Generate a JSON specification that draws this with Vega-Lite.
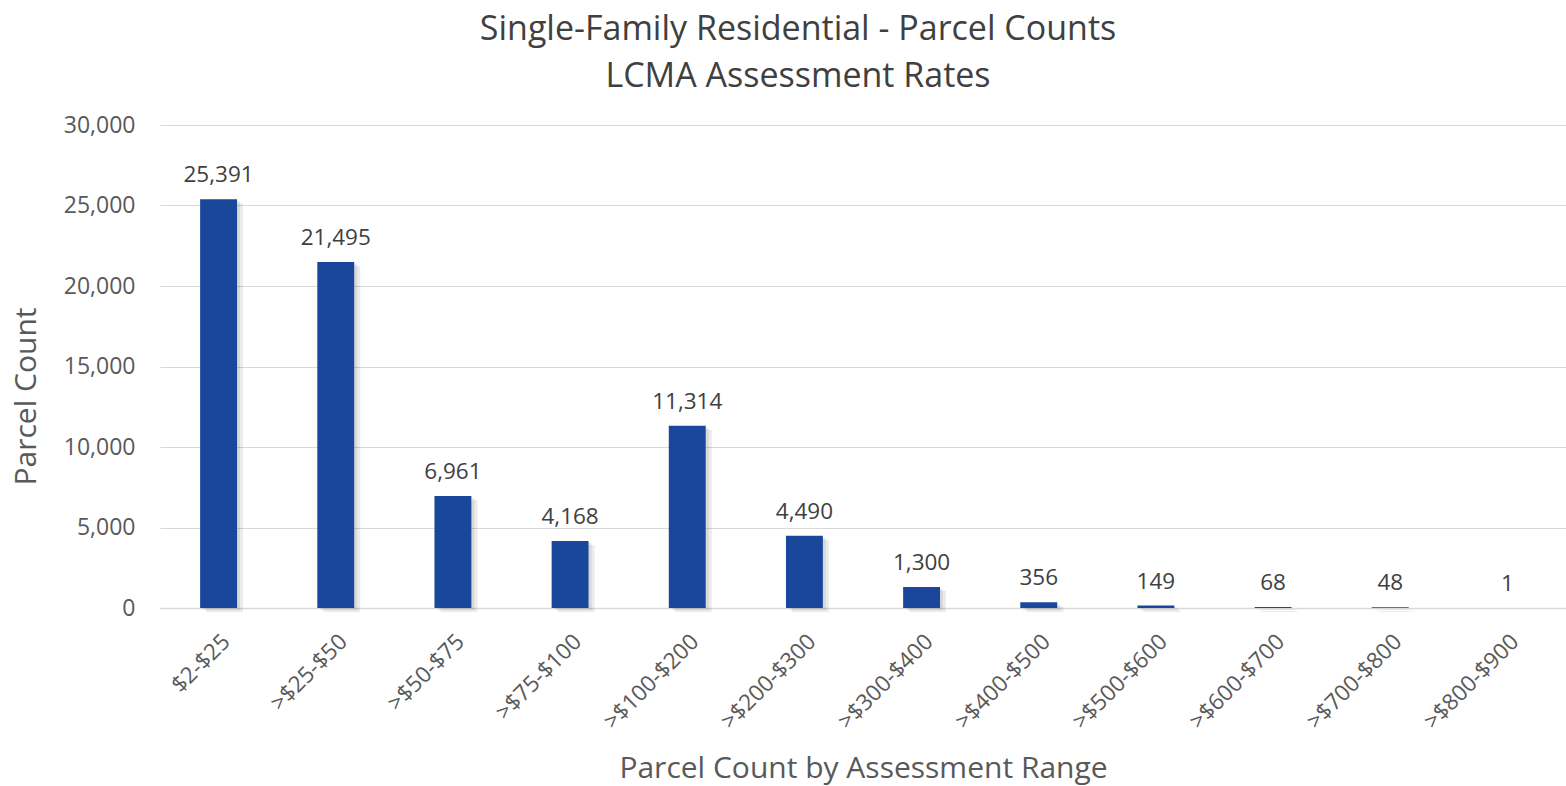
{
  "$schema": "https://vega.github.io/schema/vega-lite/v6.json",
  "autosize": "none",
  "width": 1406,
  "height": 483,
  "padding": {"left": 160, "top": 125, "right": 0, "bottom": 178},
  "background": "white",
  "config": {
    "font": "Open Sans",
    "view": {"stroke": null}
  },
  "title": {
    "text": ["Single-Family Residential - Parcel Counts", "LCMA Assessment Rates"],
    "fontSize": 34,
    "font": "Open Sans",
    "fontWeight": "normal",
    "color": "#404040",
    "anchor": "middle",
    "frame": "group",
    "dx": -65,
    "offset": 20,
    "lineHeight": 47
  },
  "data": {
    "values": [
      {"range": "$2-$25", "count": 25391},
      {"range": ">$25-$50", "count": 21495},
      {"range": ">$50-$75", "count": 6961},
      {"range": ">$75-$100", "count": 4168},
      {"range": ">$100-$200", "count": 11314},
      {"range": ">$200-$300", "count": 4490},
      {"range": ">$300-$400", "count": 1300},
      {"range": ">$400-$500", "count": 356},
      {"range": ">$500-$600", "count": 149},
      {"range": ">$600-$700", "count": 68},
      {"range": ">$700-$800", "count": 48},
      {"range": ">$800-$900", "count": 1}
    ]
  },
  "encoding": {
    "x": {
      "field": "range",
      "type": "nominal",
      "sort": null,
      "scale": {"paddingInner": 0.685, "paddingOuter": 0.3425},
      "axis": {
        "title": "Parcel Count by Assessment Range",
        "titleFontSize": 30,
        "titleFontWeight": "normal",
        "titleColor": "#595959",
        "titlePadding": 21,
        "labelAngle": -45,
        "labelFontSize": 22.5,
        "labelColor": "#595959",
        "labelPadding": 22,
        "ticks": false,
        "domainColor": "#d9d9d9",
        "domainWidth": 1.5
      }
    },
    "y": {
      "field": "count",
      "type": "quantitative",
      "scale": {"domain": [0, 30000]},
      "axis": {
        "title": "Parcel Count",
        "titleFontSize": 30,
        "titleFontWeight": "normal",
        "titleColor": "#595959",
        "titlePadding": 22,
        "titleY": 271,
        "values": [0, 5000, 10000, 15000, 20000, 25000, 30000],
        "format": ",d",
        "labelFontSize": 23,
        "labelColor": "#595959",
        "labelPadding": 25,
        "ticks": false,
        "domain": false,
        "gridColor": "#d9d9d9",
        "gridWidth": 1.2
      }
    }
  },
  "layer": [
    {
      "mark": {"type": "bar", "color": "#000000", "opacity": 0.08, "xOffset": 6, "yOffset": 4}
    },
    {
      "mark": {"type": "bar", "color": "#000000", "opacity": 0.08, "xOffset": 3, "yOffset": 2}
    },
    {
      "mark": {"type": "bar", "color": "#1a479c"}
    },
    {
      "mark": {"type": "text", "baseline": "bottom", "dy": -12, "fontSize": 22.5, "color": "#404040"},
      "encoding": {
        "text": {"field": "count", "type": "quantitative", "format": ",d"}
      }
    }
  ]
}
